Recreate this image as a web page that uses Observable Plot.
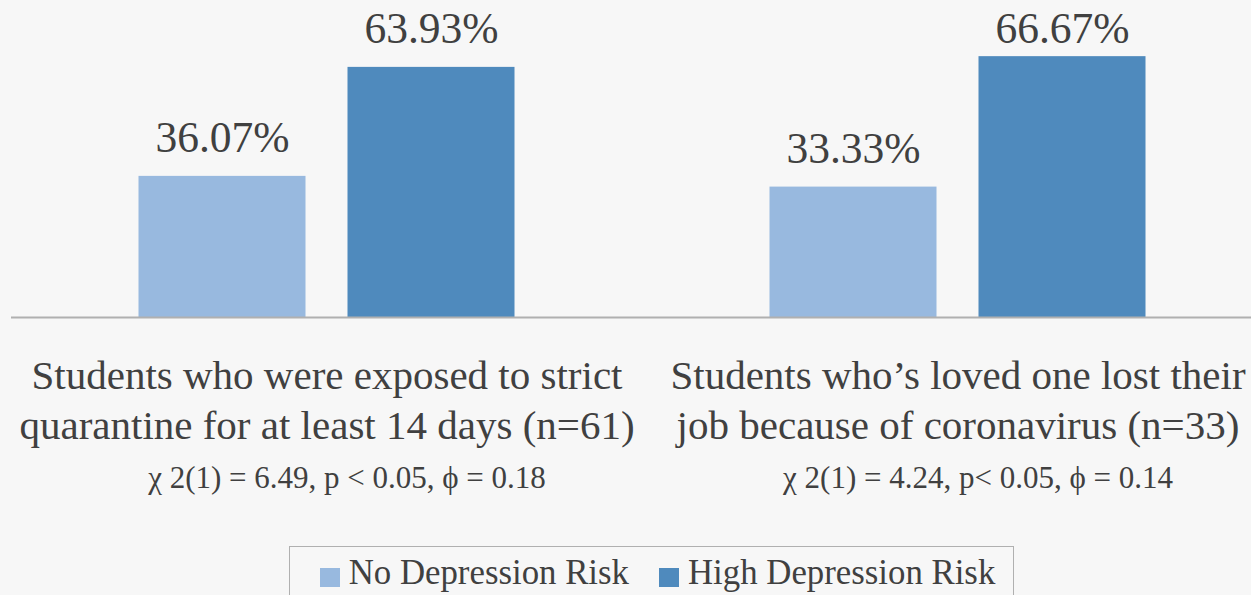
<!DOCTYPE html>
<html>
<head>
<meta charset="utf-8">
<script src="https://cdn.jsdelivr.net/npm/d3@7"></script>
<script src="https://cdn.jsdelivr.net/npm/@observablehq/plot@0.6"></script>
<style>
  html, body { margin: 0; padding: 0; background: #f7f7f7; overflow: hidden; }
  #chart svg { display: block; }
  #legend {
    position: absolute; left: 289px; top: 546px; width: 725px; height: 70px;
    border: 1.5px solid #b0b0b0; box-sizing: border-box;
    font-family: "Liberation Serif", serif; font-size: 34.8px; line-height: 1; color: #404040;
    display: flex; justify-content: center; padding-top: 8.5px; padding-left: 12px;
  }
  #legend .item { display: flex; align-items: flex-start; margin: 0 15px; }
  #legend .sw { width: 20px; height: 19px; margin-right: 9px; margin-top: 12.5px; }
</style>
</head>
<body>
<div id="chart"></div>
<div id="legend"></div>
<script>
const categories = [
  "Students who were exposed to strict\nquarantine for at least 14 days (n=61)",
  "Students who’s loved one lost their\njob because of coronavirus (n=33)"
];
const stats = [
  "χ 2(1) = 6.49, p < 0.05, ϕ = 0.18",
  "χ 2(1) = 4.24, p< 0.05, ϕ = 0.14"
];
const series = ["No Depression Risk", "High Depression Risk"];
const noRisk = [36.07, 33.33];
const highRisk = [63.93, 66.67];
const colors = ["#98b9df", "#4f8abd"];
// data labels are kept inside the plot area (as the source chart does)
const labelCeiling = 64;

const data = [];
categories.forEach((c, i) => {
  data.push({cat: c, series: series[0], value: noRisk[i]});
  data.push({cat: c, series: series[1], value: highRisk[i]});
});
const statRows = categories.map((c, i) => ({cat: c, text: stats[i]}));

const textColor = "#404040";
const chart = Plot.plot({
  width: 1251,
  height: 540,
  marginLeft: 10.5,
  marginRight: -21.5,
  marginTop: 4,
  marginBottom: 223,
  style: {fontFamily: "Liberation Serif", background: "#f7f7f7", color: textColor, overflow: "visible"},
  fx: {domain: categories, padding: 0, axis: null},
  x: {domain: series, paddingInner: 0.2, paddingOuter: 0.6024, axis: null},
  y: {domain: [0, 80], axis: null},
  color: {domain: series, range: colors},
  marks: [
    Plot.barY(data, {fx: "cat", x: "series", y: "value", fill: "series"}),
    Plot.ruleY([0], {stroke: "#b0b0b0", strokeWidth: 2}),
    Plot.text(data, {fx: "cat", x: "series", y: d => Math.min(d.value, labelCeiling),
      text: d => d.value.toFixed(2) + "%",
      dy: -24, lineAnchor: "bottom", fontSize: 43.5, fill: textColor}),
    Plot.text(categories, {fx: d => d, text: d => d, frameAnchor: "bottom", lineAnchor: "top",
      dy: 36, fontSize: 41, lineHeight: 1.22, fill: textColor}),
    Plot.text(statRows, {fx: "cat", text: "text", frameAnchor: "bottom", lineAnchor: "top",
      dy: 148, dx: 20, fontSize: 31, fill: textColor})
  ]
});
document.getElementById("chart").appendChild(chart);

const legend = d3.select("#legend");
series.forEach((s, i) => {
  const item = legend.append("div").attr("class", "item");
  item.append("div").attr("class", "sw").style("background", colors[i]);
  item.append("span").text(s);
});
</script>
</body>
</html>
